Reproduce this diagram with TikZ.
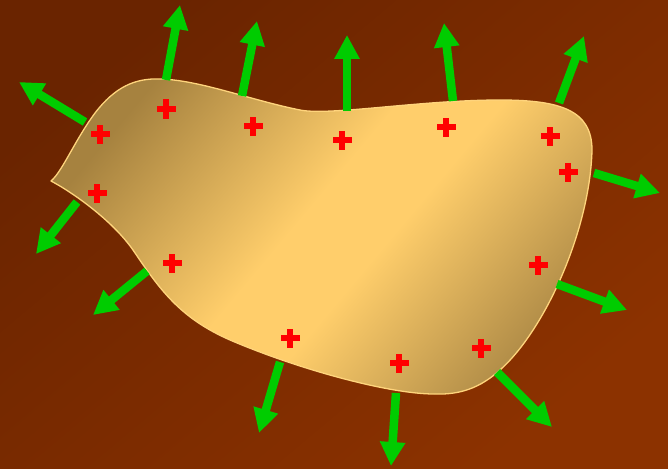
\documentclass[tikz,border=0pt]{standalone}
\usetikzlibrary{arrows.meta}
\definecolor{bgA}{HTML}{6A2400}
\definecolor{bgB}{HTML}{8C3200}
\definecolor{dkA}{HTML}{A6823F}
\definecolor{dkB}{HTML}{AE8A46}
\definecolor{ltC}{HTML}{FFCE6B}
\definecolor{rim}{HTML}{FFD47C}
\definecolor{grn}{HTML}{00CC00}
\pgfdeclarehorizontalshading{blobsh}{800bp}{color(0bp)=(dkA); color(160bp)=(dkA); color(360bp)=(ltC); color(440bp)=(ltC); color(620bp)=(dkB); color(800bp)=(dkB)}
\begin{document}
\begin{tikzpicture}[x=1pt,y=-1pt,
  arr/.style={draw=grn,line width=8.5pt,-{Triangle[width=24pt,length=24pt]}},
  plus/.pic={\fill[red] (-9.5pt,-2.8pt) rectangle (9.5pt,2.8pt);
             \fill[red] (-2.8pt,-9.5pt) rectangle (2.8pt,9.5pt);}]
\useasboundingbox (0,0) rectangle (668,468);
\shade[top color=bgA,bottom color=bgB,shading angle=40] (0,0) rectangle (668,468);
\def\blob{(51,181) .. controls (62,172) and (75,140) .. (95,113)
 .. controls (115,87) and (135,78) .. (160,79)
 .. controls (200,80) and (250,100) .. (300,110)
 .. controls (330,116) and (420,100) .. (500,100)
 .. controls (560,100) and (592,110) .. (592,150)
 .. controls (590,230) and (545,330) .. (500,370)
 .. controls (480,388) and (460,395) .. (434,394)
 .. controls (390,394) and (300,370) .. (230,340)
 .. controls (180,318) and (160,290) .. (133,250)
 .. controls (112,220) and (72,192) .. (51,181) -- cycle}
\begin{scope}
\clip \blob;
\node[inner sep=0,rotate=-40] (shade) at (340,235) {\pgfuseshading{blobsh}};
\end{scope}
\draw[rim,line width=1.3pt,line join=round] \blob;
% arrow anchors
\coordinate (s1) at (85,122);   \coordinate (e1) at (19,82);
\coordinate (s2) at (166,80);   \coordinate (e2) at (180,5);
\coordinate (s3) at (242,96);   \coordinate (e3) at (257,21);
\coordinate (s4) at (347,111);  \coordinate (e4) at (347,35);
\coordinate (s5) at (453,101);  \coordinate (e5) at (444,23);
\coordinate (s6) at (559,103);  \coordinate (e6) at (584,36);
\coordinate (s7) at (594,173);  \coordinate (e7) at (660,193);
\coordinate (s8) at (557,284);  \coordinate (e8) at (627,310);
\coordinate (s9) at (497,372);  \coordinate (e9) at (552,427);
\coordinate (s10) at (396,393); \coordinate (e10) at (391,466);
\coordinate (s11) at (280,362); \coordinate (e11) at (259,433);
\coordinate (s12) at (147,271); \coordinate (e12) at (93,315);
\coordinate (s13) at (77,202);  \coordinate (e13) at (36,254);
\foreach \i in {1,...,13} \draw[arr] (s\i) -- (e\i);
% charges
\foreach \p [count=\k] in {(166,109),(100,134),(253,126),(342,140),(446,127),(550,136),(568,172),(97,193),(172,263),(290,338),(399,363),(481,348),(538,265)}
  \pic (q\k) at \p {plus};
\end{tikzpicture}
\end{document}
